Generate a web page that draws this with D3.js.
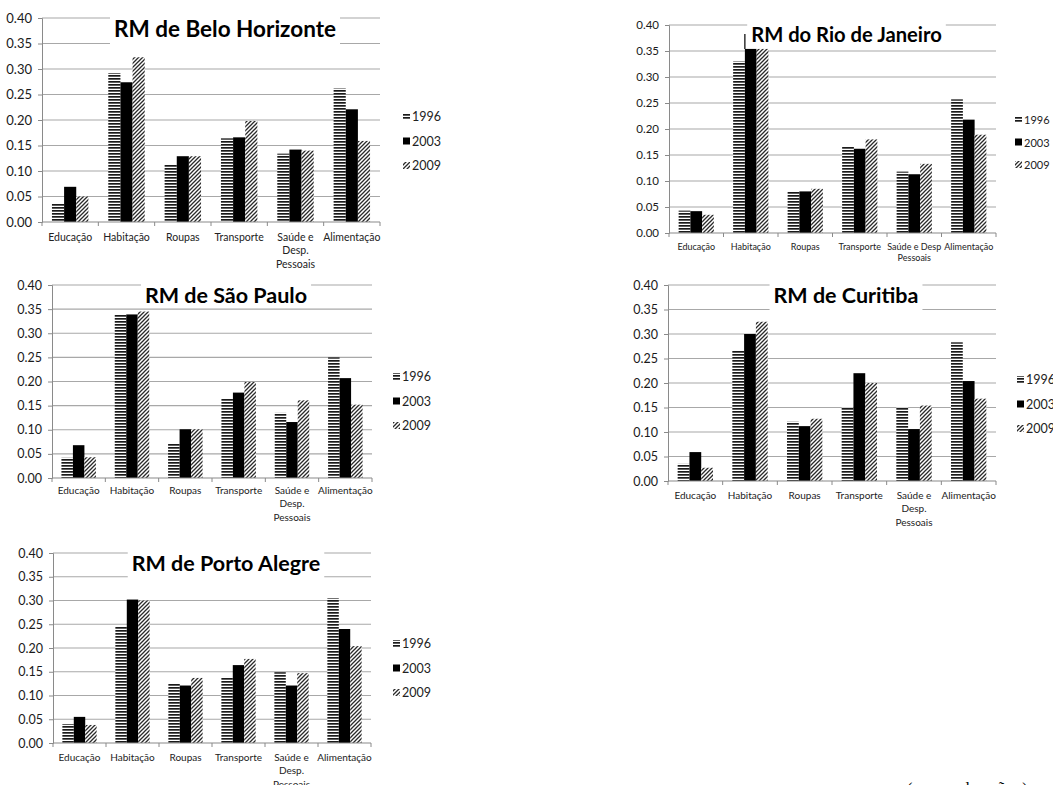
<!DOCTYPE html>
<html>
<head>
<meta charset="utf-8">
<script src="https://cdn.jsdelivr.net/npm/d3@7"></script>
<style>
  body { margin: 0; background: #fff; }
  svg { display: block; }
</style>
</head>
<body>
<div id="chart"></div>
<script>
// Categories, years and tick values
const categories = ["Educação", "Habitação", "Roupas", "Transporte", "Saúde e Desp. Pessoais", "Alimentação"];
const years = ["1996", "2003", "2009"];
const yTicks = [0, 0.05, 0.10, 0.15, 0.20, 0.25, 0.30, 0.35, 0.40];

// How the category labels wrap under the axis
const categoryLines = [["Educação"], ["Habitação"], ["Roupas"], ["Transporte"], ["Saúde e", "Desp.", "Pessoais"], ["Alimentação"]];
const rioCategoryLines = [["Educação"], ["Habitação"], ["Roupas"], ["Transporte"], ["Saúde e Desp", "Pessoais"], ["Alimentação"]];

// Values per region, one row per year (1996, 2003, 2009)
const beloHorizonte = [
    [0.036, 0.292, 0.113, 0.164, 0.134, 0.262],
    [0.069, 0.274, 0.129, 0.166, 0.142, 0.221],
    [0.050, 0.323, 0.129, 0.198, 0.140, 0.159]
];
const rioDeJaneiro = [
    [0.043, 0.330, 0.080, 0.166, 0.118, 0.257],
    [0.042, 0.354, 0.080, 0.162, 0.113, 0.218],
    [0.035, 0.354, 0.085, 0.180, 0.133, 0.189]
];
const saoPaulo = [
    [0.042, 0.339, 0.071, 0.165, 0.135, 0.250],
    [0.068, 0.339, 0.101, 0.177, 0.116, 0.207],
    [0.043, 0.345, 0.101, 0.199, 0.161, 0.152]
];
const curitiba = [
    [0.035, 0.266, 0.121, 0.150, 0.150, 0.283],
    [0.059, 0.300, 0.112, 0.220, 0.106, 0.204],
    [0.027, 0.325, 0.127, 0.200, 0.154, 0.168]
];
const portoAlegre = [
    [0.040, 0.245, 0.126, 0.139, 0.149, 0.305],
    [0.055, 0.302, 0.121, 0.164, 0.121, 0.240],
    [0.038, 0.300, 0.137, 0.177, 0.147, 0.204]
];

// Panel layout (plot box, title and legend placement)
const panels = [
    { title: "RM de Belo Horizonte", data: beloHorizonte, lines: categoryLines,
      left: 42, right: 380, top: 18, bottom: 222, titleSize: 22.5, boxDown: 8,
      legendX: 403, legendY: 117, tickSize: 13, catSize: 10.5, catOffset: 18.5 },
    { title: "RM do Rio de Janeiro", data: rioDeJaneiro, lines: rioCategoryLines,
      left: 669, right: 996, top: 25, bottom: 233, titleSize: 20.2, boxDown: 5,
      legendX: 1015, legendY: 120, legendGap: 22.5, legendSize: 11, tickSize: 11.5, catSize: 9, catOffset: 17, catLine: 11,
      leader: true },
    { title: "RM de São Paulo", data: saoPaulo, lines: categoryLines,
      left: 52, right: 372, top: 285, bottom: 478, titleSize: 21.5, boxDown: 4,
      legendX: 393, legendY: 377, tickSize: 12.5, catSize: 10, catOffset: 15.5 },
    { title: "RM de Curitiba", data: curitiba, lines: categoryLines,
      left: 668, right: 996, top: 285, bottom: 481, titleSize: 21.5, boxDown: 9,
      legendX: 1017, legendY: 380, tickSize: 12.5, catSize: 10, catOffset: 17.5 },
    { title: "RM de Porto Alegre", data: portoAlegre, lines: categoryLines,
      left: 53, right: 371, top: 553, bottom: 743, titleSize: 21.5, boxDown: 9,
      legendX: 393, legendY: 644, tickSize: 12.5, catSize: 10, catOffset: 17.5 }
];

const font = "Lato, 'Open Sans', sans-serif";

const svg = d3.select("#chart")
    .append("svg")
    .attr("width", 1053)
    .attr("height", 785);

// Fill patterns: horizontal stripes (1996), solid (2003), diagonal hatch (2009)
const defs = svg.append("defs");
const stripes = defs.append("pattern")
    .attr("id", "stripes")
    .attr("patternUnits", "userSpaceOnUse")
    .attr("width", 6).attr("height", 3);
stripes.append("rect").attr("width", 6).attr("height", 3).attr("fill", "#fff");
stripes.append("rect").attr("width", 6).attr("height", 1.7).attr("fill", "#1a1a1a");

const hatch = defs.append("pattern")
    .attr("id", "hatch")
    .attr("patternUnits", "userSpaceOnUse")
    .attr("width", 4).attr("height", 4);
hatch.append("rect").attr("width", 4).attr("height", 4).attr("fill", "#fff");
hatch.append("path")
    .attr("d", "M-1,1 L1,-1 M0,4 L4,0 M3,5 L5,3")
    .attr("stroke", "#2a2a2a")
    .attr("stroke-width", 1.3);

const fills = ["url(#stripes)", "#000", "url(#hatch)"];

panels.forEach(p => {
    const g = svg.append("g");

    const x0 = d3.scaleBand()
        .domain(categories)
        .range([p.left, p.right])
        .padding(0);

    const x1 = d3.scaleBand()
        .domain(years)
        .range([0, x0.bandwidth()])
        .paddingInner(0)
        .paddingOuter(0.82);

    const y = d3.scaleLinear()
        .domain([0, 0.40])
        .range([p.bottom, p.top]);

    // Gridlines
    g.selectAll(".grid")
        .data(yTicks.filter(d => d > 0))
        .enter()
        .append("line")
        .attr("x1", p.left)
        .attr("x2", p.right)
        .attr("y1", d => y(d))
        .attr("y2", d => y(d))
        .attr("stroke", "#a8a8a8")
        .attr("stroke-width", 1.2);

    // Y axis
    const yAxis = g.append("g")
        .attr("transform", `translate(${p.left},0)`)
        .call(d3.axisLeft(y).tickValues(yTicks).tickFormat(d3.format(".2f")).tickSize(4).tickPadding(6));
    yAxis.select(".domain").attr("stroke", "#8a8a8a");
    yAxis.selectAll(".tick line").attr("stroke", "#8a8a8a");
    yAxis.selectAll("text")
        .attr("fill", "#1a1a1a")
        .style("font-family", font)
        .style("font-size", p.tickSize + "px");

    // Bars
    years.forEach((yr, i) => {
        g.selectAll(".bar" + yr)
            .data(p.data[i])
            .enter()
            .append("rect")
            .attr("x", (d, j) => x0(categories[j]) + x1(yr))
            .attr("y", d => y(d))
            .attr("width", x1.bandwidth())
            .attr("height", d => y(0) - y(d))
            .attr("fill", fills[i]);
    });

    // X axis line and tick marks at category boundaries
    g.append("line")
        .attr("x1", p.left).attr("x2", p.right)
        .attr("y1", y(0)).attr("y2", y(0))
        .attr("stroke", "#8a8a8a")
        .attr("stroke-width", 1.2);
    g.selectAll(".xtick")
        .data(categories.map(c => x0(c)).concat([p.right]))
        .enter()
        .append("line")
        .attr("x1", d => d).attr("x2", d => d)
        .attr("y1", y(0)).attr("y2", y(0) + 4)
        .attr("stroke", "#8a8a8a");

    // Category labels
    const lineH = p.catLine || 13.5;
    p.lines.forEach((lines, j) => {
        const t = g.append("text")
            .attr("text-anchor", "middle")
            .attr("fill", "#222")
            .style("font-family", font)
            .style("font-size", p.catSize + "px");
        lines.forEach((ln, k) => {
            t.append("tspan")
                .attr("x", x0(categories[j]) + x0.bandwidth() / 2)
                .attr("y", y(0) + p.catOffset + k * lineH)
                .text(ln);
        });
    });

    // Title on a white box that hides the top gridlines
    const titleX = (p.left + p.right) / 2 + 14;
    const titleY = p.top + (p.titleSize * 0.86);
    const box = g.append("rect").attr("fill", "#fff");
    const title = g.append("text")
        .attr("x", titleX)
        .attr("y", titleY)
        .attr("text-anchor", "middle")
        .attr("fill", "#000")
        .style("font-family", font)
        .style("font-weight", "bold")
        .style("font-size", p.titleSize + "px")
        .text(p.title);
    const bb = title.node().getBBox();
    box.attr("x", bb.x - 4)
        .attr("y", p.top - 6)
        .attr("width", bb.width + 8)
        .attr("height", titleY - p.top + 6 + p.boxDown);

    // Odd vertical stroke next to the Rio title
    if (p.leader) {
        const lx = x0("Habitação") + x1("2003");
        g.append("line")
            .attr("x1", lx).attr("x2", lx)
            .attr("y1", y(p.data[1][1]))
            .attr("y2", y(p.data[1][1]) - 15)
            .attr("stroke", "#000")
            .attr("stroke-width", 1.2);
    }

    // Legend
    const gap = p.legendGap || 24.5;
    years.forEach((yr, i) => {
        const ly = p.legendY + i * gap;
        g.append("rect")
            .attr("x", p.legendX)
            .attr("y", ly - 4)
            .attr("width", 7)
            .attr("height", 7)
            .attr("fill", fills[i]);
        g.append("text")
            .attr("x", p.legendX + 9)
            .attr("y", ly + 4)
            .attr("fill", "#222")
            .style("font-family", font)
            .style("font-size", (p.legendSize || 12.5) + "px")
            .text(yr);
    });
});

// Cut-off text at the bottom of the page
svg.append("text")
    .attr("x", 907)
    .attr("y", 794)
    .style("font-family", "'Liberation Serif', serif")
    .style("font-size", "16px")
    .style("letter-spacing", "4.6px")
    .text("(conclusão)");
</script>
</body>
</html>
